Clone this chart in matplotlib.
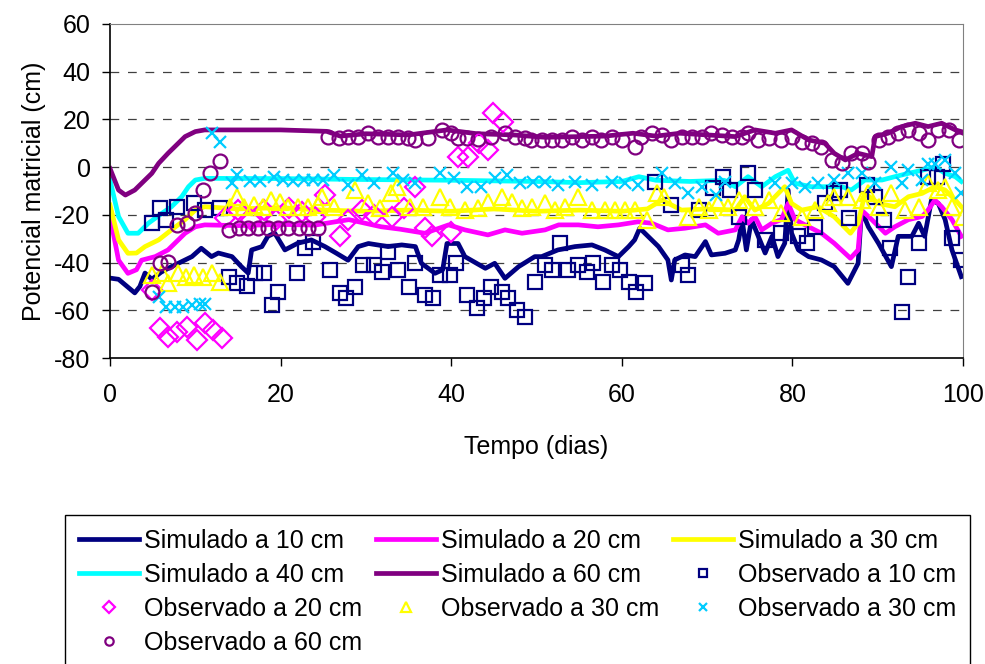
import matplotlib
matplotlib.use("Agg")
import matplotlib.pyplot as plt

plt.rcParams['font.family'] = ['Liberation Sans', 'DejaVu Sans']
plt.rcParams['axes.unicode_minus'] = False

# simulated series (day, potential in cm)
sim10_dia = [0, 1, 2, 2.9, 3.5, 4.1, 4.9, 6, 7.2, 8.4, 9.6, 10.7, 11.9, 12.7, 14.3, 15.4, 16.2, 16.6,
             17.8, 18.5, 19.3, 20.5, 22, 23.6, 25.2, 26.5, 27.9, 29.1, 30.3, 32.6, 34.2, 35.8, 36.5,
             38.1, 39, 39.5, 40.8, 41.6, 44, 45.1, 46.3, 47.9, 49.8, 50.6, 52.5, 54.5, 56.5, 58,
             59.6, 60.8, 61.5, 62.1, 62.7, 64.3, 65.4, 65.8, 66.2, 67.4, 68.6, 69.8, 70.5, 72.1,
             73.3, 73.7, 74.1, 74.6, 75.2, 76, 76.8, 77.6, 78.3, 79.1, 79.5, 79.9, 80.7, 81.9,
             83.4, 84.9, 86.5, 87.7, 88.1, 88.9, 90.1, 91.6, 92.4, 94, 94.8, 95.5, 96.3, 97.1,
             97.9, 98.7, 99.8]
sim10_val = [-46.5, -47, -50, -52.7, -50, -44.4, -47, -44, -41.7, -39.6, -37.5, -34, -37.5, -36, -37.5,
             -41.7, -44.4, -34.7, -33.3, -29, -27.6, -34.7, -31.9, -30.5, -33.3, -36, -39, -33.3,
             -32, -33.3, -32.6, -33.3, -40.3, -44.5, -43, -32, -32, -37.5, -42.4, -40.3, -46.6,
             -41.7, -37.5, -37.5, -34.7, -33.3, -32.6, -34.7, -37.5, -33.3, -30.5, -25.6, -27.7,
             -33.3, -38.9, -47.3, -38.9, -36.8, -37.5, -31.2, -36.8, -36.1, -34.7, -30.5, -22.1,
             -34.7, -22, -29, -36, -29, -37.5, -31.9, -9.6, -27.7, -34.7, -37.5, -38.9, -41.7,
             -48.7, -40.3, -18, -25, -32, -41.7, -29, -29, -23.5, -29, -13.8, -15.2, -22, -34.7,
             -45.9]

sim20_dia = [0, 1, 2.1, 3.1, 3.7, 5.3, 6.8, 8, 8.8, 10, 11.1, 15, 20, 24, 28, 31.8, 34, 36.9, 39.7,
             41.6, 44.3, 46.3, 48.3, 51, 52.6, 54.9, 57.2, 59.6, 61.9, 63.5, 65.4, 67.4, 69.8,
             71.3, 73.3, 74.1, 74.8, 75.6, 76.4, 77.6, 78.7, 79.5, 80.3, 81.9, 83.4, 84.9, 86.8,
             87.7, 88.1, 89.3, 90.9, 92, 93.6, 95.2, 95.9, 96.7, 97.5, 98.7, 99.8]
sim20_val = [-20.7, -39, -44.5, -43, -39, -37.5, -34.7, -30.5, -27.7, -25, -24.2, -24.5, -24, -24.3,
             -22, -25, -26, -27.7, -24.2, -26.3, -28.4, -26.3, -27.7, -26.3, -24.2, -24.2, -25,
             -24.2, -22.9, -23.5, -26.3, -25.6, -24.2, -27.7, -26.3, -20.8, -23.5, -20.7, -26.3,
             -23.5, -22, -15.2, -22, -25, -27.7, -31.9, -38.2, -34.7, -18, -22, -27.7, -25, -22,
             -20.7, -18, -13.8, -16.6, -22, -29]

sim30_dia = [0, 1, 2.1, 3.1, 4.1, 5.7, 7.2, 8.8, 10, 11.1, 15, 20, 25, 30, 35, 40, 45, 50, 55, 60,
             63, 64.7, 67, 70, 73.3, 74.4, 75.6, 77.2, 79.1, 79.9, 81.1, 83, 84.9, 86.8, 87.7,
             88.5, 90.1, 92, 93.6, 95.2, 96.7, 97.9, 99.1, 99.8]
sim30_val = [-15.9, -30.5, -36.1, -36, -33.3, -30.5, -26.3, -22, -18, -16.6, -17.5, -17, -18, -18.5,
             -18, -18.5, -17.5, -18.5, -18, -18.5, -17.5, -13.8, -18, -17.5, -18, -12.4, -18,
             -15.2, -8.2, -15.2, -18, -16.6, -20.8, -27.7, -23.5, -11, -15.2, -16.6, -12.4, -11,
             -8.2, -9.6, -13.8, -16.6]

sim40_dia = [0, 1, 2.1, 3.3, 4.5, 6.1, 7.2, 8.4, 9.2, 10, 11.1, 20, 30, 40, 50, 55, 60, 62, 64, 68,
             72, 73.3, 74.8, 76.4, 78, 79.5, 80.3, 82.2, 84.2, 85.8, 86.9, 88.5, 90.5, 92, 93.6,
             95.2, 96.7, 97.9, 99.1, 99.8]
sim40_val = [-5.4, -20.7, -27.7, -27.7, -23.5, -19.3, -16.6, -12.4, -8.2, -5.4, -4.7, -4.8, -5.2,
             -5.5, -6, -6.5, -6, -4, -5.5, -6, -5.5, -8.2, -4, -8.2, -4, -1.3, -6.8, -8.2, -8.2,
             -8.2, -9.6, -5.4, -5.4, -4, -2.6, -1.3, 0.1, -2.6, -4, -6]

sim60_dia = [0, 1, 1.8, 2.9, 3.7, 4.9, 5.7, 6.8, 7.6, 8.8, 10, 11.1, 20, 25.4, 27, 30, 35, 39.5, 43,
             47.3, 51, 55, 58, 61.3, 64, 66.8, 70, 73.3, 75.6, 78, 79.9, 81.9, 83.8, 84.9, 86.2,
             87.7, 89.3, 89.7, 91.2, 92.8, 94.4, 95.9, 97.5, 99.1, 99.8]
sim60_val = [-0.6, -9.6, -11.7, -9.6, -6.8, -2.6, 1.6, 5.8, 8.6, 12.8, 14.9, 15.6, 15.6, 15, 13, 14,
             13.5, 15.6, 14, 13.5, 12.5, 12.8, 13, 14.2, 13, 14.2, 13.5, 12.8, 15.6, 14.2, 15.6,
             11.4, 10, 5.8, 3, 5.8, 4.4, 12.8, 14.2, 17, 18.4, 17, 18.4, 15.6, 14.9]

# observed series
obs10_dia = [4.9, 5.9, 6.6, 7.8, 9.8, 11.1, 12.9, 13.9, 14.9, 16, 17, 18, 19, 19.7, 21.9, 22.9, 23.8,
             25.8, 27, 27.7, 28.7, 29.7, 30.9, 31.9, 32.6, 33.8, 35, 35.8, 36.9, 37.9, 38.7, 39.9,
             40.6, 41.8, 43, 43.8, 44.7, 45.9, 46.7, 47.7, 48.7, 49.8, 51, 51.8, 52.8, 53.7, 54.9,
             55.9, 56.6, 57.8, 58.8, 59.8, 60.8, 61.7, 62.7, 63.9, 65.8, 67, 67.8, 69, 70.7, 71.9,
             72.7, 73.7, 74.8, 75.6, 76.8, 78.7, 80.7, 81.7, 82.6, 83.8, 84.9, 85.6, 86.6, 88.7,
             89.7, 90.7, 91.4, 92.8, 93.6, 94.8, 95.9, 96.9, 97.7, 98.7, 99.8]
obs10_val = [-23.5, -17.2, -22, -16.6, -15.2, -18, -17.1, -45.9, -48.7, -50, -44.5, -44.5, -57.8,
             -52.2, -44.2, -34, -31.2, -43.1, -52.9, -55, -50.1, -41, -41, -43.8, -35.4, -43.1,
             -50.1, -40.3, -53.6, -55, -45.2, -45.2, -40.3, -53.6, -59.2, -55, -50.1, -52.2, -55,
             -59.9, -62.7, -48, -41, -43.1, -31.9, -43.1, -41, -43.8, -40.3, -48, -41, -43.1, -48,
             -52.2, -48.7, -6.1, -15.9, -41, -45.2, -18, -8.9, -4, -9.6, -20.8, -2.6, -9.6, -30.5,
             -27.7, -29, -31.9, -25, -15.2, -11, -9.6, -21.4, -7.5, -12.4, -22, -34, -60.6, -45.9,
             -31.9, -4, -4, 1.5, -29.8, -38.9]

obs20_dia = [4.9, 5.9, 6.8, 7.8, 9, 10.2, 11.1, 12.1, 13.1, 13.5, 15, 16.5, 18, 19.5, 21, 22.5, 24,
             25.2, 27, 27.9, 29.5, 31, 33, 34.5, 35.8, 36.9, 37.7, 40, 40.8, 42, 43.2, 44.3, 44.9,
             46.1]
obs20_val = [-51.5, -67.5, -71, -69, -66.9, -72.4, -65.4, -68.2, -71.7, -21.4, -18, -22, -18, -22,
             -17, -19, -21, -11.7, -29, -22, -18, -20, -20.8, -17, -8.2, -25.6, -29, -27, 4.3,
             4.3, 10, 7.2, 22.6, 19.1]

obs30_dia = [4.9, 6.1, 6.8, 8, 8.9, 9.9, 10.9, 11.9, 12.9, 14.1, 14.9, 15.7, 16.9, 17.9, 18.9, 19.9,
             20.9, 22, 23.2, 24.4, 24.8, 26.3, 28.7, 30.2, 31.7, 32.9, 33.6, 35.2, 36.7, 38.7,
             39.9, 41.6, 43.1, 44.3, 45.9, 47.1, 48.3, 49.5, 51, 52.2, 53.3, 54.9, 56.5, 58, 59.2,
             60.4, 61.5, 62.9, 64.1, 65, 67.8, 69, 70.2, 71.3, 72.5, 73.7, 75.6, 77.2, 78.7, 81.1,
             82.6, 84.2, 84.9, 86.5, 88.1, 88.9, 90.1, 91.6, 93.2, 94.8, 95.9, 97.1, 97.9, 98.7,
             100]
obs30_val = [-45.2, -44.5, -48.7, -44.5, -46, -45.2, -46, -44.5, -48, -16.6, -12.4, -16.6, -15.9,
             -16.6, -13.8, -14.5, -16.6, -16.6, -16.6, -15.9, -12.4, -16.6, -9.6, -15.2, -17.2,
             -11, -8.2, -16.6, -16.6, -12.4, -16.6, -18, -17.2, -14.5, -12.4, -14.5, -17.2, -16.6,
             -15.2, -18, -16.6, -12.4, -18, -18, -18, -18, -18, -22, -11, -12.4, -20.8, -16.6, -18,
             -15.2, -16.6, -13.8, -16.6, -13.8, -19.3, -20.8, -18, -15.2, -12.4, -12.4, -13.8, -11,
             -16.6, -11, -18, -16.6, -6.8, -9.6, -8.2, -16.6, -20.8]

obs40_dia = [5.7, 6.6, 7.6, 8.6, 9.6, 10.6, 11.1, 11.9, 12.9, 14.3, 14.9, 16.4, 17.6, 19.2, 20.3,
             21.5, 22.7, 23.8, 25, 26.3, 27.9, 29.5, 30.9, 33.2, 34.4, 35.8, 38.7, 40.3, 41.9,
             43.5, 45.1, 46.5, 48.1, 49.6, 51, 52.5, 54.5, 56.5, 58.8, 60.4, 61.9, 64.7, 66.2,
             67.8, 69.4, 71, 72.1, 78, 79.9, 81.5, 83, 84.9, 86.5, 88.1, 89.7, 91.6, 92.8, 93.6,
             95.2, 95.9, 96.7, 97.9, 99.1, 99.8]
obs40_val = [-54.3, -58.5, -58.5, -58.5, -57.8, -57.2, -57.2, 14.2, 10.7, -6.8, -3.2, -6, -6, -4,
             -5.4, -6, -5.4, -5.4, -5.4, -3.2, -7.5, -3.2, -6.8, -2.6, -5.4, -6.8, -2.6, -4.7,
             -8.2, -8.2, -4.7, -3.2, -6.8, -6.1, -6.1, -7.5, -6.1, -7.5, -6.1, -6.8, -7.5, -2.6,
             -6.8, -11, -8.2, -11.7, -6.1, -6.8, -6.8, -8.2, -6.8, -5.4, -2.6, -2.6, -6.8, 0.1,
             -6.8, -1.3, -5.4, 1.5, 1.5, 2.9, -2.6, -11]

obs60_dia = [4.9, 5.9, 6.8, 7.8, 9, 10, 10.9, 11.7, 12.9, 13.9, 15.1, 16.2, 17.4, 18.5, 19.7, 20.9,
             22.1, 23.2, 24.4, 25.6, 26.8, 27.9, 29.1, 30.2, 31.4, 32.6, 33.8, 34.9, 35.8, 37.3,
             38.9, 40, 40.8, 41.9, 43.1, 44.7, 46.3, 47.5, 48.7, 49.4, 50.6, 51.8, 53, 54.1, 55.3,
             56.5, 57.6, 58.8, 60, 61.5, 62.3, 63.5, 64.7, 65.8, 67, 68.2, 69.4, 70.5, 71.7, 72.9,
             74.1, 74.8, 76, 77.2, 78.7, 79.9, 81.1, 82.3, 83.4, 84.6, 85.8, 86.9, 88.1, 88.9,
             90.1, 91.2, 92.4, 93.6, 94.8, 95.9, 97.1, 98.3, 99.5]
obs60_val = [-52.2, -40.3, -39.6, -24.2, -23.5, -19.3, -9.6, -2.6, 2.4, -26.3, -25.6, -25.6, -25.6,
             -25.6, -25.6, -25.6, -25.6, -25.6, -25.6, 12.8, 12.3, 12.6, 12.8, 14.2, 12.8, 12.6,
             12.8, 12.3, 11.4, 12.3, 15.6, 14.2, 12.3, 12.3, 12, 12.8, 14.2, 12.8, 12.3, 11.4,
             11.4, 11.4, 11.4, 12.5, 11.4, 12.5, 11.4, 12.5, 11.4, 8.6, 12.8, 14.2, 13.5, 11.4,
             12.8, 12.5, 12.8, 14.2, 13.5, 12.5, 12.8, 14.2, 11.4, 12.1, 11.4, 12.8, 10.7, 10,
             8.6, 3, 1.6, 5.8, 5.8, 2.3, 11.4, 12.8, 14.2, 15.6, 14.2, 11.4, 15.6, 15.6, 11.4]

fig = plt.figure(figsize=(9.85, 6.64), dpi=100)
ax = fig.add_axes([0.1117, 0.4608, 0.8660, 0.5031])

lw = 3.4
l10, = ax.plot(sim10_dia, sim10_val, color='#000080', lw=lw, label='Simulado a 10 cm')
l20, = ax.plot(sim20_dia, sim20_val, color='#FF00FF', lw=lw, label='Simulado a 20 cm')
l30, = ax.plot(sim30_dia, sim30_val, color='#FFFF00', lw=lw, label='Simulado a 30 cm')
l40, = ax.plot(sim40_dia, sim40_val, color='#00FFFF', lw=lw, label='Simulado a 40 cm')
l60, = ax.plot(sim60_dia, sim60_val, color='#800080', lw=lw, label='Simulado a 60 cm')

mk = dict(ls='none', mfc='none', mew=1.6)
o10, = ax.plot(obs10_dia, obs10_val, marker='s', ms=9.5, mec='#000080', label='Observado a 10 cm', **mk)
o20, = ax.plot(obs20_dia, obs20_val, marker='D', ms=10, mec='#FF00FF', label='Observado a 20 cm', **mk)
o30, = ax.plot(obs30_dia, obs30_val, marker='^', ms=11, mec='#FFFF00', label='Observado a 30 cm', **mk)
o40, = ax.plot(obs40_dia, obs40_val, marker='x', ms=9, mec='#00CCFF', label='Observado a 30 cm', **mk)
o60, = ax.plot(obs60_dia, obs60_val, marker='o', ms=10, mec='#800080', label='Observado a 60 cm', **mk)

ax.set_xlim(0, 100)
ax.set_ylim(-80, 60)
ax.set_xticks(range(0, 101, 20))
ax.set_yticks(range(-80, 61, 20))
ax.tick_params(labelsize=18, direction='out', length=6, width=1)
ax.tick_params(axis='x', pad=12)
ax.tick_params(axis='y', pad=8)
for y in range(-60, 60, 20):
    ax.axhline(y, color='#404040', lw=0.9, ls=(0, (7, 7)), zorder=0)
ax.spines['top'].set_color('#808080')
ax.spines['right'].set_color('#808080')
ax.spines['left'].set_linewidth(1.2)
ax.spines['bottom'].set_linewidth(1.2)

ax.set_xlabel('Tempo (dias)', fontsize=18, labelpad=20)
ax.set_ylabel('Potencial matricial (cm)', fontsize=18, labelpad=6)

handles = [l10, l40, o20, o60, l20, l60, o30, l30, o10, o40]
leg = fig.legend(handles=handles, labels=[h.get_label() for h in handles], ncol=3,
                 loc='upper left', bbox_to_anchor=(65 / 985, 0, 905 / 985, 1 - 515 / 664),
                 mode='expand', borderaxespad=0, borderpad=0.55, fontsize=18, markerscale=0.6,
                 handlelength=2.4, handletextpad=0.2, labelspacing=0.4, columnspacing=0.4,
                 frameon=True, fancybox=False, edgecolor='black', framealpha=1)
leg.get_frame().set_linewidth(1.0)

fig.savefig('out.png', dpi=100)
